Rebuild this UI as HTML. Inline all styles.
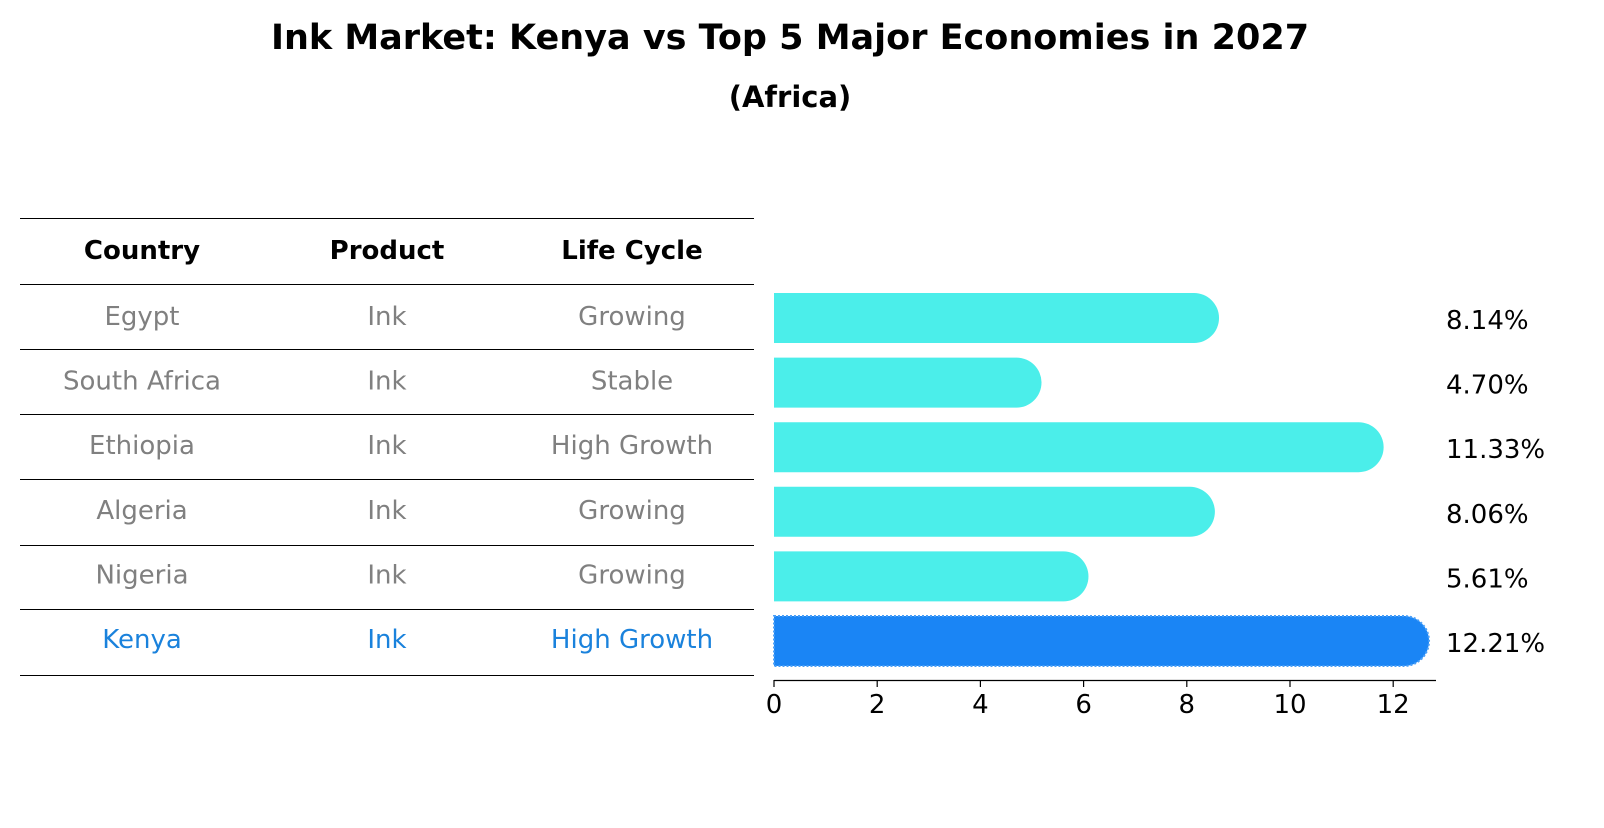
<!DOCTYPE html>
<html><head><meta charset="utf-8"><style>
body{margin:0;background:#fff;font-family:"Liberation Sans","DejaVu Sans",sans-serif}
</style></head><body>
<svg width="1604" height="823" xmlns="http://www.w3.org/2000/svg" font-family="DejaVu Sans, Liberation Sans, sans-serif">
<text x="790" y="49" text-anchor="middle" font-size="35" font-weight="bold">Ink Market: Kenya vs Top 5 Major Economies in 2027</text>
<text x="790" y="107" text-anchor="middle" font-size="29" font-weight="bold">(Africa)</text>
<g id="table"></g>
<g id="bars"></g>
</svg>
<script>
const countries=["Egypt","South Africa","Ethiopia","Algeria","Nigeria","Kenya"];
const products=["Ink","Ink","Ink","Ink","Ink","Ink"];
const lifeCycles=["Growing","Stable","High Growth","Growing","Growing","High Growth"];
const values=[8.14,4.70,11.33,8.06,5.61,12.21];
const ticks=[0,2,4,6,8,10,12];
const NS="http://www.w3.org/2000/svg";
function mk(tag,attrs,parent,text){const e=document.createElementNS(NS,tag);for(const k in attrs)e.setAttribute(k,attrs[k]);if(text!==undefined)e.textContent=text;parent.appendChild(e);return e;}
const x=v=>774+v*51.6;
const rowY=i=>316+i*64.6;
const T=document.getElementById('table');
const cols=[142,387,632];
const lines=[218,284,349,414,479,545,609,675];
lines.forEach(y=>{const l=mk('line',{x1:20,x2:754,y1:y+0.5,y2:y+0.5,stroke:'#000','stroke-width':1},T);

});
["Country","Product","Life Cycle"].forEach((h,j)=>{const t=mk('text',{x:cols[j],y:259,'text-anchor':'middle','font-size':26,'font-weight':'bold'},T,h);

});
countries.forEach((c,i)=>{const col=i===5?'#1a82dc':'#808080';
[c,products[i],lifeCycles[i]].forEach((s,j)=>{const t=mk('text',{x:cols[j],y:rowY(i)+9,'text-anchor':'middle','font-size':26,fill:col},T,s);

});});
const B=document.getElementById('bars');
const h=50,r=25;
values.forEach((v,i)=>{const yc=rowY(i)+2;const kenya=i===5;
const fill=kenya?'#1a85f5':'#4beeea';
const p=mk('path',{d:`M${x(0)},${yc-h/2} H${x(v)} A${r},${r} 0 0 1 ${x(v)},${yc+h/2} H${x(0)} Z`,fill:fill,stroke:kenya?'#4a9ff7':'none','stroke-dasharray':kenya?'2,2':'none','stroke-width':kenya?2:0},B);


const t=mk('text',{x:1446,y:yc+11,'font-size':26},B,v.toFixed(2)+'%');

});
const ax=mk('line',{x1:774,x2:1436,y1:680.5,y2:680.5,stroke:'#000','stroke-width':1.2},B);


ticks.forEach(tv=>{const l=mk('line',{x1:x(tv),x2:x(tv),y1:680,y2:687,stroke:'#000','stroke-width':1.2},B);


const t=mk('text',{x:x(tv),y:713,'text-anchor':'middle','font-size':26},B,tv);

});
</script>
</body></html>
